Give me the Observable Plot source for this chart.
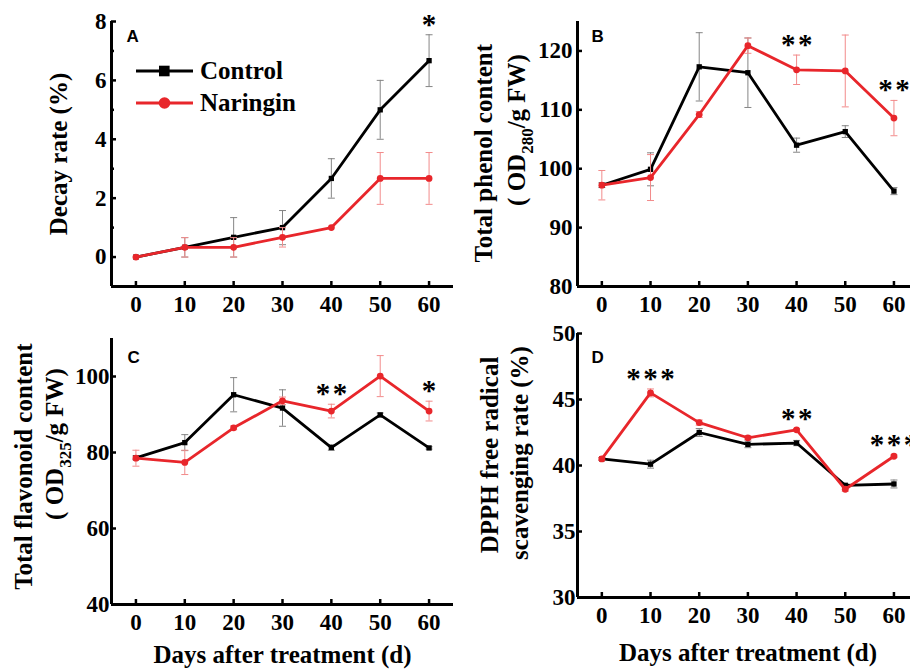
<!DOCTYPE html>
<html><head><meta charset="utf-8">
<script src="https://cdn.jsdelivr.net/npm/d3@7"></script>
<script src="https://cdn.jsdelivr.net/npm/@observablehq/plot@0.6"></script>
<style>
html,body{margin:0;padding:0;background:#fff;}
#root{position:relative;width:910px;height:671px;overflow:hidden;background:#fff;}
.cell{position:absolute;}
</style></head><body><div id="root"></div>
<script>
// ---------- data ----------
const days = [0, 10, 20, 30, 40, 50, 60];
const seriesNames = ["Control", "Naringin"];

// A: Decay rate (%)
const ctrlA = [0, 0.33, 0.67, 1.0, 2.67, 5.0, 6.67];
const ctrlAErr = [0, 0.33, 0.67, 0.58, 0.67, 1.0, 0.88];
const narA = [0, 0.33, 0.33, 0.67, 1.0, 2.67, 2.67];
const narAErr = [0, 0.33, 0.33, 0.33, 0, 0.88, 0.88];
const starsA = [{day: 60, label: "*"}];
const yTicksA = [0, 2, 4, 6, 8];
const yMinorA = [1, 3, 5, 7];

// B: Total phenol content
const ctrlB = [97.2, 99.9, 117.3, 116.3, 104.0, 106.3, 96.2];
const ctrlBErr = [0.4, 2.8, 5.8, 5.9, 1.2, 1.0, 0.6];
const narB = [97.2, 98.5, 109.2, 120.9, 116.8, 116.6, 108.6];
const narBErr = [2.5, 3.9, 0.5, 1.3, 2.5, 6.1, 3.0];
const starsB = [{day: 40, label: "**"}, {day: 60, label: "**"}];
const yTicksB = [80, 90, 100, 110, 120];

// C: Total flavonoid content
const ctrlC = [78.6, 82.6, 95.2, 91.7, 81.3, 89.9, 81.2];
const ctrlCErr = [0.5, 2.1, 4.5, 4.8, 0.7, 0.5, 0.3];
const narC = [78.5, 77.4, 86.5, 93.6, 90.9, 100.1, 90.9];
const narCErr = [2.1, 3.2, 0.5, 1.0, 1.8, 5.4, 2.6];
const starsC = [{day: 40, label: "**"}, {day: 60, label: "*"}];
const yTicksC = [40, 60, 80, 100];

// D: DPPH free radical scavenging rate (%)
const ctrlD = [40.5, 40.1, 42.5, 41.6, 41.7, 38.5, 38.6];
const ctrlDErr = [0.1, 0.3, 0.3, 0.25, 0.2, 0.1, 0.3];
const narD = [40.5, 45.5, 43.25, 42.1, 42.7, 38.2, 40.7];
const narDErr = [0.1, 0.3, 0.2, 0.15, 0.1, 0.15, 0.1];
const starsD = [{day: 10, label: "***"}, {day: 40, label: "**"}, {day: 60, label: "***"}];
const yTicksD = [30, 35, 40, 45, 50];

// ---------- style ----------
const RED = "#e8262b";
const CTRL_ERR = "#858585";
const NAR_ERR = "#f28b8b";
const SERIF = "'Liberation Serif','Times New Roman',serif";
const SANS = "'Liberation Sans',Arial,sans-serif";
const cap = {draw(ctx, size) { const r = Math.sqrt(size / Math.PI); ctx.moveTo(-r, 0); ctx.lineTo(r, 0); }};

function rows(vals, errs) { return days.map((d, i) => ({day: d, v: vals[i], e: errs[i]})); }

function errMarks(R, color) {
  const E = R.filter(d => d.e > 0);
  return [
    Plot.ruleX(E, {x: "day", y1: d => d.v - d.e, y2: d => d.v + d.e, stroke: color, strokeWidth: 1}),
    Plot.dot(E, {x: "day", y: d => d.v + d.e, symbol: cap, r: 3.5, stroke: color, strokeWidth: 1, fill: "none"}),
    Plot.dot(E, {x: "day", y: d => d.v - d.e, symbol: cap, r: 3.5, stroke: color, strokeWidth: 1, fill: "none"})
  ];
}

function panel(cfg) {
  const C = rows(cfg.ctrl, cfg.ctrlErr), N = rows(cfg.nar, cfg.narErr);
  const starRows = cfg.stars.map(s => {
    const i = days.indexOf(s.day);
    return {day: s.day, label: s.label, y: Math.max(cfg.ctrl[i] + cfg.ctrlErr[i], cfg.nar[i] + cfg.narErr[i])};
  });
  const marks = [
    ...errMarks(C, CTRL_ERR),
    Plot.line(C, {x: "day", y: "v", stroke: "#000", strokeWidth: 2.8}),
    Plot.dot(C, {x: "day", y: "v", symbol: "square", r: 3, fill: "#000", stroke: "none"}),
    ...errMarks(N, NAR_ERR),
    Plot.line(N, {x: "day", y: "v", stroke: RED, strokeWidth: 2.8}),
    Plot.dot(N, {x: "day", y: "v", symbol: "circle", r: 3.4, fill: RED, stroke: "none"}),
    Plot.ruleY([cfg.yDomain[0]], {stroke: "#000", strokeWidth: 3}),
    Plot.ruleX([cfg.xDomain[0]], {stroke: "#000", strokeWidth: 3}),
    Plot.axisX({ticks: days, tickSize: -5, tickPadding: 14, strokeWidth: 2.5, label: null,
      fontSize: 23, fontWeight: "bold", fontFamily: SERIF}),
    Plot.axisY({ticks: cfg.yTicks, tickSize: -5, tickPadding: cfg.yPad, strokeWidth: 2.5, label: null,
      fontSize: 23, fontWeight: "bold", fontFamily: SERIF}),
    Plot.text(starRows, {x: "day", y: "y", text: "label", lineAnchor: "bottom", dy: -1, dx: 1.3,
      fontSize: 29, fontWeight: "bold", fontFamily: SERIF, fill: "#000"}),
    Plot.text([cfg.letter], {frameAnchor: "top-left", text: d => d, dx: cfg.letterDx, dy: cfg.letterDy,
      textAnchor: "start", lineAnchor: "middle", fontFamily: SANS, fontWeight: "bold", fontSize: 17, fill: "#000"})
  ];
  if (cfg.yMinor) marks.push(Plot.axisY({ticks: cfg.yMinor, tickSize: -3, tickFormat: () => "", strokeWidth: 2.5, label: null}));
  const svg = Plot.plot({
    width: cfg.width, height: cfg.height,
    marginTop: cfg.m[0], marginRight: cfg.m[1], marginBottom: cfg.m[2], marginLeft: cfg.m[3],
    x: {type: "linear", domain: cfg.xDomain},
    y: {type: "linear", domain: cfg.yDomain},
    style: {background: "transparent", overflow: "visible", fontFamily: SERIF, fontWeight: "bold", fontSize: "23px", color: "#000"},
    marks
  });
  // wider gaps between significance asterisks
  d3.select(svg).selectAll("text").filter(function() { return /^\*+$/.test(this.textContent); })
    .attr("letter-spacing", 2.5);
  const div = document.createElement("div");
  div.className = "cell";
  div.style.left = cfg.left + "px";
  div.style.top = cfg.top + "px";
  div.appendChild(svg);
  document.getElementById("root").appendChild(div);
  return svg;
}

function vtitle(svg, x, y, parts) {
  const t = d3.select(svg).append("text")
    .attr("transform", `translate(${x},${y}) rotate(-90)`)
    .attr("text-anchor", "middle").attr("font-family", SERIF).attr("font-weight", "bold")
    .attr("font-size", 25).attr("fill", "#000");
  let shifted = false;
  for (const p of parts) {
    const s = t.append("tspan").text(p.t);
    if (p.sub) { s.attr("font-size", 17).attr("dy", 8); shifted = true; }
    else if (shifted) { s.attr("dy", -8); shifted = false; }
  }
}
function htitle(svg, x, y, text) {
  d3.select(svg).append("text").attr("x", x).attr("y", y)
    .attr("text-anchor", "middle").attr("font-family", SERIF).attr("font-weight", "bold")
    .attr("font-size", 25).attr("fill", "#000").text(text);
}

// ---------- panels ----------
const svgA = panel({left: 0, top: 0, width: 455, height: 330, m: [21, 2, 44, 111],
  xDomain: [-5, 65], yDomain: [-1, 8], yTicks: yTicksA, yMinor: yMinorA, yPad: 10,
  ctrl: ctrlA, ctrlErr: ctrlAErr, nar: narA, narErr: narAErr, stars: starsA,
  letter: "A", letterDx: 15, letterDy: 15});
const svgB = panel({left: 455, top: 0, width: 455, height: 330, m: [21, 0, 44, 122],
  xDomain: [-5, 63.4], yDomain: [80, 125], yTicks: yTicksB, yPad: 10,
  ctrl: ctrlB, ctrlErr: ctrlBErr, nar: narB, narErr: narBErr, stars: starsB,
  letter: "B", letterDx: 14, letterDy: 15});
const svgC = panel({left: 0, top: 330, width: 455, height: 341, m: [8, 2, 67, 111],
  xDomain: [-5, 65], yDomain: [40, 110], yTicks: yTicksC, yPad: 7,
  ctrl: ctrlC, ctrlErr: ctrlCErr, nar: narC, narErr: narCErr, stars: starsC,
  letter: "C", letterDx: 16, letterDy: 19.5});
const svgD = panel({left: 455, top: 330, width: 455, height: 341, m: [3, 0, 74, 122],
  xDomain: [-5, 63.4], yDomain: [30, 50], yTicks: yTicksD, yPad: 7,
  ctrl: ctrlD, ctrlErr: ctrlDErr, nar: narD, narErr: narDErr, stars: starsD,
  letter: "D", letterDx: 14, letterDy: 24.5});

// ---------- axis titles ----------
vtitle(svgA, 66.5, 154, [{t: "Decay rate (%)"}]);
vtitle(svgB, 36.7, 153.3, [{t: "Total phenol content"}]);
vtitle(svgB, 69.5, 130, [{t: "( OD"}, {t: "280", sub: true}, {t: "/g FW)"}]);
vtitle(svgC, 31.5, 136.7, [{t: "Total flavonoid content"}]);
vtitle(svgC, 63, 114, [{t: "( OD"}, {t: "325", sub: true}, {t: "/g FW)"}]);
vtitle(svgD, 43, 125, [{t: "DPPH free radical"}]);
vtitle(svgD, 72.5, 123, [{t: "scavenging rate (%)"}]);
htitle(svgC, 282.5, 333, "Days after treatment (d)");
htitle(svgD, 293, 331, "Days after treatment (d)");

// ---------- legend (panel A) ----------
const lg = d3.select(svgA).append("g");
[[seriesNames[0], "#000", "square", 71], [seriesNames[1], RED, "circle", 103]].forEach(([name, color, sym, y]) => {
  lg.append("line").attr("x1", 136).attr("x2", 193).attr("y1", y).attr("y2", y)
    .attr("stroke", color).attr("stroke-width", 3);
  if (sym === "square") lg.append("rect").attr("x", 159).attr("y", y - 5.3).attr("width", 10.6).attr("height", 10.6).attr("fill", color);
  else lg.append("circle").attr("cx", 164.5).attr("cy", y).attr("r", 5.8).attr("fill", color);
  lg.append("text").attr("x", 200).attr("y", y + 8).attr("text-anchor", "start")
    .attr("font-family", SERIF).attr("font-weight", "bold")
    .attr("font-size", 25).attr("fill", "#000").text(name);
});
</script></body></html>
